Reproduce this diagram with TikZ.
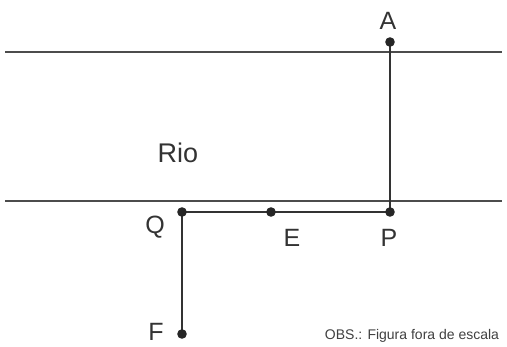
\documentclass[tikz,border=0pt]{standalone}
\usepackage{fontspec}
\setmainfont{Liberation Sans}
\usepackage{tikz}

\begin{document}
\begin{tikzpicture}[x=1pt,y=-1pt]
  \tikzset{
    margem/.style={draw=black!70,line width=1.2pt},
    trecho/.style={draw=black!80,line width=2.8pt},
    ponto/.style={fill=black!85},
    rotulo/.style={font=\fontsize{25}{25}\selectfont,text=black!80}
  }
  \useasboundingbox (0,0) rectangle (507,347);
  % margens do rio
  \coordinate (M1) at (5,52);
  \coordinate (M2) at (502,52);
  \coordinate (N1) at (5,201);
  \coordinate (N2) at (502,201);
  \draw[margem] (M1) -- (M2);
  \draw[margem] (N1) -- (N2);
  % pontos
  \coordinate (A) at (390,42);
  \coordinate (P) at (390,212);
  \coordinate (E) at (271,212);
  \coordinate (Q) at (182,212);
  \coordinate (F) at (182,334);
  \draw[trecho] (A) -- (P) -- (E) -- (Q) -- (F);
  \fill[ponto] (A) circle (4.8);
  \fill[ponto] (P) circle (4.8);
  \fill[ponto] (E) circle (4.8);
  \fill[ponto] (Q) circle (4.8);
  \fill[ponto] (F) circle (4.8);
  % rótulos
  \node[rotulo] (lA) at (388,21) {A};
  \node[rotulo] (lP) at (389,238) {P};
  \node[rotulo] (lE) at (292,238) {E};
  \node[rotulo] (lQ) at (155,227) {Q};
  \node[rotulo] (lF) at (156,332) {F};
  \node[rotulo,font=\fontsize{27}{27}\selectfont] (rio) at (178,153) {Rio};
  \node[font=\fontsize{14}{14}\selectfont,text=black!75] (obs) at (412,336) {OBS.: Figura fora de escala};
\end{tikzpicture}
\end{document}
